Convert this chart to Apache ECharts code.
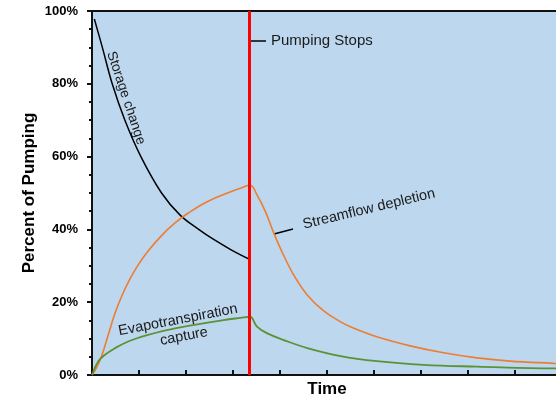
<!DOCTYPE html>
<html>
<head>
<meta charset="utf-8">
<script src="https://cdn.jsdelivr.net/npm/echarts@6/dist/echarts.min.js"></script>
<style>
html,body{margin:0;padding:0;background:#fff;}
#c{width:556px;height:400px;}
</style>
</head>
<body>
<div id="c"></div>
<script>
// ---- data (time in arbitrary units, values in percent of pumping) ----
const yTicks = [0, 20, 40, 60, 80, 100];
const pumpStopTime = 3.35;

const storageTime   = [0.05, 0.22, 0.43, 0.70, 1.04, 1.48, 1.87, 2.27, 2.58, 2.96, 3.35];
const storageValues = [97.8, 90.0, 80.0, 70.0, 60.0, 50.0, 44.0, 40.0, 37.3, 34.4, 31.8];

const streamTime   = [0, 0.09, 0.20, 0.34, 0.48, 0.62, 0.80, 0.98, 1.19, 1.48, 1.76, 2.05, 2.45, 2.94, 3.16, 3.36, 3.51, 3.69, 3.87, 4.04, 4.29, 4.58, 4.93, 5.29, 5.56, 6.06, 6.77, 7.48, 8.19, 8.90, 9.82, 10];
const streamValues = [0, 1.8, 5.0, 10.8, 16.6, 21.3, 26.2, 30.2, 34.0, 38.3, 41.7, 44.5, 47.6, 50.3, 51.3, 52.2, 49.5, 44.9, 38.9, 33.9, 27.5, 22.0, 17.6, 14.6, 12.9, 10.5, 8.0, 6.1, 4.7, 3.8, 3.2, 3.1];

const etTime   = [0, 0.13, 0.27, 0.48, 0.77, 1.19, 1.62, 2.05, 2.80, 3.16, 3.36, 3.51, 3.72, 4.08, 4.58, 5.29, 6.06, 7.05, 8.19, 9.82, 10];
const etValues = [0, 3.7, 5.5, 7.3, 9.2, 11.0, 12.4, 13.5, 15.1, 15.7, 16.0, 13.3, 11.5, 9.6, 7.4, 5.2, 3.8, 2.8, 2.3, 1.8, 1.8];

function pairs(xs, ys) { return xs.map((x, i) => [x, ys[i]]); }

const chart = echarts.init(document.getElementById('c'), null, {renderer: 'canvas'});
const txtFont = 'Liberation Sans, Arial, sans-serif';
const deg = Math.PI / 180;

chart.setOption({
  animation: false,
  backgroundColor: '#ffffff',
  grid: {
    left: 92, top: 11, bottom: 25, right: -6,
    containLabel: false, outerBoundsMode: 'none',
    show: true, backgroundColor: '#BDD7EE', borderColor: '#111', borderWidth: 2
  },
  xAxis: {
    type: 'value', min: 0, max: 10, interval: 1,
    name: 'Time', nameLocation: 'middle', nameGap: 6, nameMoveOverlap: false,
    nameTextStyle: {fontFamily: txtFont, fontWeight: 'bold', fontSize: 17, color: '#000'},
    axisLine: {show: true, lineStyle: {color: '#111', width: 2}},
    axisTick: {show: true, inside: true, length: 5, lineStyle: {color: '#111', width: 2}},
    axisLabel: {show: false},
    splitLine: {show: false}
  },
  yAxis: {
    type: 'value', min: yTicks[0], max: yTicks[yTicks.length - 1], interval: 20,
    name: 'Percent of Pumping', nameLocation: 'middle', nameGap: 54, nameMoveOverlap: false,
    nameTextStyle: {fontFamily: txtFont, fontWeight: 'bold', fontSize: 17, color: '#000'},
    axisLine: {show: true, lineStyle: {color: '#111', width: 2}},
    axisTick: {show: true, length: 5, lineStyle: {color: '#111', width: 2}},
    minorTick: {show: true, splitNumber: 4, length: 3, lineStyle: {color: '#111', width: 2}},
    axisLabel: {formatter: '{value}%', fontFamily: txtFont, fontWeight: 'bold', fontSize: 13, color: '#000', margin: 14},
    splitLine: {show: false}
  },
  series: [
    {
      name: 'Storage change', type: 'line', data: pairs(storageTime, storageValues),
      smooth: 0.4, showSymbol: false, lineStyle: {color: '#000', width: 1.5}
    },
    {
      name: 'Streamflow depletion', type: 'line', data: pairs(streamTime, streamValues),
      smooth: 0.4, showSymbol: false, lineStyle: {color: '#ED7D31', width: 1.6}
    },
    {
      name: 'Evapotranspiration capture', type: 'line', data: pairs(etTime, etValues),
      smooth: 0.4, showSymbol: false, lineStyle: {color: '#5B9236', width: 1.8},
      markLine: {
        silent: true, symbol: ['none', 'none'], label: {show: false},
        lineStyle: {color: '#FF0000', width: 3, type: 'solid'},
        data: [{xAxis: pumpStopTime}]
      }
    }
  ],
  graphic: [
    {type: 'line', shape: {x1: 250, y1: 41, x2: 266, y2: 41}, style: {stroke: '#000', lineWidth: 1.5}},
    {type: 'text', x: 271, y: 41, style: {text: 'Pumping Stops', font: '15px ' + txtFont, fill: '#1a1a1a', textAlign: 'left', textVerticalAlign: 'middle'}},
    {type: 'line', shape: {x1: 274, y1: 234, x2: 293, y2: 229}, style: {stroke: '#000', lineWidth: 1.5}},
    {type: 'text', x: 369, y: 209, rotation: 13.5 * deg, style: {text: 'Streamflow depletion', font: '14.5px ' + txtFont, fill: '#1a1a1a', textAlign: 'center', textVerticalAlign: 'middle'}},
    {type: 'text', x: 178, y: 320, rotation: 10.8 * deg, style: {text: 'Evapotranspiration', font: '14.5px ' + txtFont, fill: '#1a1a1a', textAlign: 'center', textVerticalAlign: 'middle'}},
    {type: 'text', x: 184, y: 336.5, rotation: 10.8 * deg, style: {text: 'capture', font: '14.5px ' + txtFont, fill: '#1a1a1a', textAlign: 'center', textVerticalAlign: 'middle'}},
    {type: 'text', x: 126, y: 98, rotation: -71.7 * deg, style: {text: 'Storage change', font: '13.8px ' + txtFont, fill: '#1a1a1a', textAlign: 'center', textVerticalAlign: 'middle'}}
  ]
});
</script>
</body>
</html>
